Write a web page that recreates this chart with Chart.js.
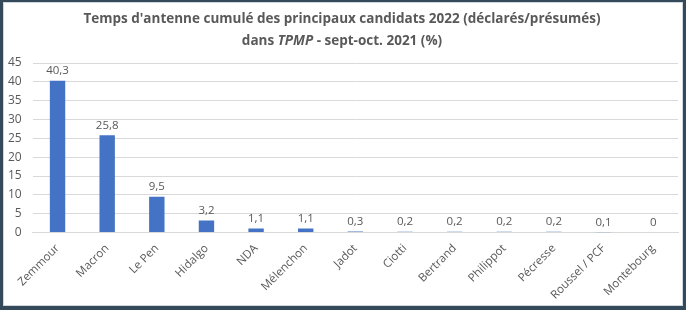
<!DOCTYPE html>
<html>
<head>
<meta charset="utf-8">
<script src="https://cdn.jsdelivr.net/npm/chart.js@4/dist/chart.umd.min.js"></script>
<style>
  html, body { margin: 0; padding: 0; background: #34495a; }
  #wrap { position: absolute; left: 3px; top: 2px; width: 680px; height: 304px; background: #ffffff; border: 1px solid #cfd6dc; box-sizing: border-box; overflow: hidden; }
  canvas { display: block; margin-left: -9px; }
</style>
</head>
<body>
<div id="wrap"><canvas id="c" width="687" height="302"></canvas></div>
<script>
const categories = ["Zemmour", "Macron", "Le Pen", "Hidalgo", "NDA", "Mélenchon", "Jadot", "Ciotti", "Bertrand", "Philippot", "Pécresse", "Roussel / PCF", "Montebourg"];
const values = [40.3, 25.8, 9.5, 3.2, 1.1, 1.1, 0.3, 0.2, 0.2, 0.2, 0.2, 0.1, 0];
const yTicks = [0, 5, 10, 15, 20, 25, 30, 35, 40, 45];
const titleLines = ["Temps d'antenne cumulé des principaux candidats 2022 (déclarés/présumés)", "dans TPMP - sept-oct. 2021 (%)"];

const FONT = "'Open Sans', 'Noto Sans', sans-serif";
const GREY = "#595959";

const valueLabels = {
  id: "valueLabels",
  afterDatasetsDraw(chart) {
    const ctx = chart.ctx;
    const meta = chart.getDatasetMeta(0);
    ctx.save();
    ctx.font = "11.5px " + FONT;
    ctx.fillStyle = GREY;
    ctx.textAlign = "center";
    ctx.textBaseline = "bottom";
    meta.data.forEach((bar, i) => {
      const txt = String(values[i]).replace(".", ",");
      ctx.fillText(txt, bar.x, bar.y - 4);
    });
    ctx.restore();
  }
};

const richTitle = {
  id: "richTitle",
  afterDraw(chart) {
    const ctx = chart.ctx;
    const cx = 9 + 338;
    const f = "13.5px ";
    ctx.save();
    ctx.fillStyle = GREY;
    ctx.textBaseline = "middle";
    ctx.textAlign = "center";
    ctx.font = "bold " + f + FONT;
    ctx.fillText(titleLines[0], cx, 16);
    const parts = [["dans ", "bold " + f], ["TPMP", "italic bold " + f], [" - sept-oct. 2021 (%)", "bold " + f]];
    let total = 0;
    parts.forEach(p => { ctx.font = p[1] + FONT; total += ctx.measureText(p[0]).width; });
    let x = cx - total / 2;
    ctx.textAlign = "left";
    parts.forEach(p => { ctx.font = p[1] + FONT; ctx.fillText(p[0], x, 38); x += ctx.measureText(p[0]).width; });
    ctx.restore();
  }
};

new Chart(document.getElementById("c"), {
  type: "bar",
  data: {
    labels: categories,
    datasets: [{
      data: values,
      backgroundColor: "#4472c4",
      categoryPercentage: 1.0,
      barPercentage: 0.31
    }]
  },
  options: {
    responsive: false,
    animation: false,
    layout: { padding: { top: 60, left: 2, right: 4, bottom: 2 } },
    plugins: { legend: { display: false }, tooltip: { enabled: false }, title: { display: false } },
    scales: {
      y: {
        min: 0, max: 45,
        afterBuildTicks(scale) { scale.ticks = yTicks.map(v => ({ value: v })); },
        ticks: { color: GREY, font: { family: FONT, size: 12 }, padding: 11 },
        grid: { color: "#d9d9d9", drawTicks: false },
        border: { display: false }
      },
      x: {
        ticks: { color: GREY, font: { family: FONT, size: 11.5 }, maxRotation: 45, minRotation: 45, padding: 1 },
        grid: { display: false },
        border: { color: "#d9d9d9" }
      }
    }
  },
  plugins: [valueLabels, richTitle]
});
</script>
</body>
</html>
